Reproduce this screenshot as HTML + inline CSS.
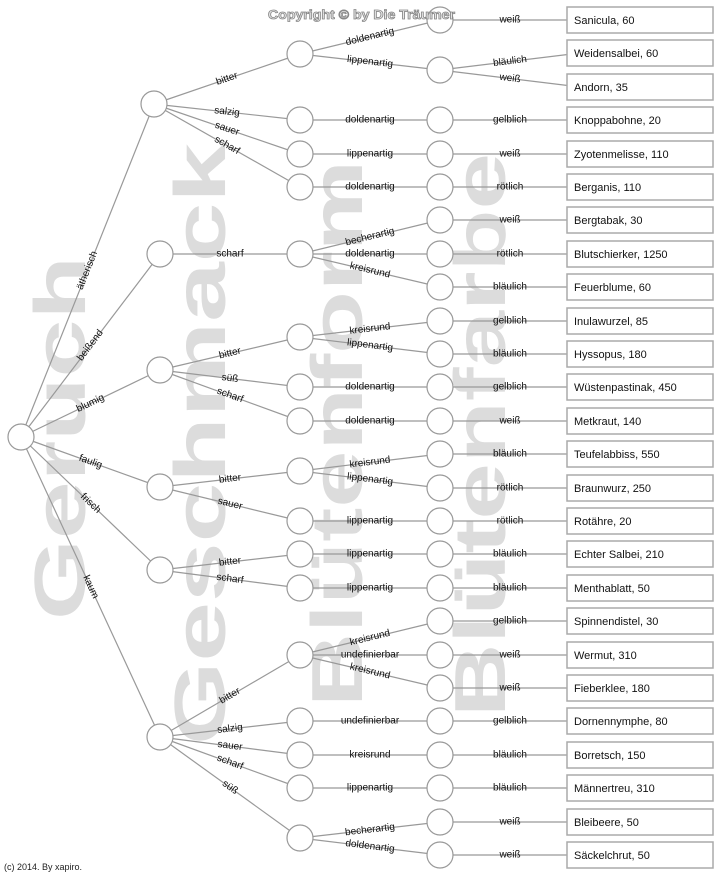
<!DOCTYPE html>
<html><head><meta charset="utf-8"><style>
html,body{margin:0;padding:0;background:#fff;}
svg{display:block;font-family:"Liberation Sans",Arial,sans-serif;}
.wm{font-size:72px;font-weight:bold;fill:#dcdcdc;}
.l{stroke:#999;stroke-width:1.2;fill:none;}
.c{stroke:#999;stroke-width:1.2;fill:#fff;}
.b{stroke:#aaa;stroke-width:1.5;fill:#fff;}
.t{font-size:10px;fill:#111;text-anchor:middle;}
.bt{font-size:11px;fill:#111;}
</style></head><body>
<svg width="721" height="875" viewBox="0 0 721 875" xmlns="http://www.w3.org/2000/svg">
<text class="wm" transform="rotate(-90 85 620)" x="85" y="620" textLength="364" lengthAdjust="spacingAndGlyphs">Geruch</text>
<text class="wm" transform="rotate(-90 225 745)" x="225" y="745" textLength="602" lengthAdjust="spacingAndGlyphs">Geschmack</text>
<text class="wm" transform="rotate(-90 362 707)" x="362" y="707" textLength="547" lengthAdjust="spacingAndGlyphs">Blütenform</text>
<text class="wm" transform="rotate(-90 505 717)" x="505" y="717" textLength="564" lengthAdjust="spacingAndGlyphs">Blütenfarbe</text>

<g class="l">
<line x1="21" y1="437" x2="154" y2="104"/><line x1="21" y1="437" x2="160" y2="254"/><line x1="21" y1="437" x2="160" y2="370"/>
<line x1="21" y1="437" x2="160" y2="487"/><line x1="21" y1="437" x2="160" y2="570"/><line x1="21" y1="437" x2="160" y2="737"/>
<line x1="154" y1="104" x2="300" y2="54"/><line x1="154" y1="104" x2="300" y2="120"/><line x1="154" y1="104" x2="300" y2="154"/><line x1="154" y1="104" x2="300" y2="187"/>
<line x1="160" y1="254" x2="300" y2="254"/>
<line x1="160" y1="370" x2="300" y2="337"/><line x1="160" y1="370" x2="300" y2="387"/><line x1="160" y1="370" x2="300" y2="421"/>
<line x1="160" y1="487" x2="300" y2="471"/><line x1="160" y1="487" x2="300" y2="521"/>
<line x1="160" y1="570" x2="300" y2="554"/><line x1="160" y1="570" x2="300" y2="588"/>
<line x1="160" y1="737" x2="300" y2="655"/><line x1="160" y1="737" x2="300" y2="721"/><line x1="160" y1="737" x2="300" y2="755"/><line x1="160" y1="737" x2="300" y2="788"/><line x1="160" y1="737" x2="300" y2="838"/>
<line x1="300" y1="54" x2="440" y2="20"/><line x1="300" y1="54" x2="440" y2="70"/>
<line x1="300" y1="120" x2="440" y2="120"/><line x1="300" y1="154" x2="440" y2="154"/><line x1="300" y1="187" x2="440" y2="187"/>
<line x1="300" y1="254" x2="440" y2="220"/><line x1="300" y1="254" x2="440" y2="254"/><line x1="300" y1="254" x2="440" y2="287"/>
<line x1="300" y1="337" x2="440" y2="321"/><line x1="300" y1="337" x2="440" y2="354"/>
<line x1="300" y1="387" x2="440" y2="387"/><line x1="300" y1="421" x2="440" y2="421"/>
<line x1="300" y1="471" x2="440" y2="454"/><line x1="300" y1="471" x2="440" y2="488"/>
<line x1="300" y1="521" x2="440" y2="521"/><line x1="300" y1="554" x2="440" y2="554"/><line x1="300" y1="588" x2="440" y2="588"/>
<line x1="300" y1="655" x2="440" y2="621"/><line x1="300" y1="655" x2="440" y2="655"/><line x1="300" y1="655" x2="440" y2="688"/>
<line x1="300" y1="721" x2="440" y2="721"/><line x1="300" y1="755" x2="440" y2="755"/><line x1="300" y1="788" x2="440" y2="788"/>
<line x1="300" y1="838" x2="440" y2="822"/><line x1="300" y1="838" x2="440" y2="855"/>
<line x1="440" y1="20" x2="580" y2="20"/><line x1="440" y1="70" x2="580" y2="53"/><line x1="440" y1="70" x2="580" y2="87"/>
<line x1="440" y1="120" x2="580" y2="120"/><line x1="440" y1="154" x2="580" y2="154"/><line x1="440" y1="187" x2="580" y2="187"/>
<line x1="440" y1="220" x2="580" y2="220"/><line x1="440" y1="254" x2="580" y2="254"/><line x1="440" y1="287" x2="580" y2="287"/>
<line x1="440" y1="321" x2="580" y2="321"/><line x1="440" y1="354" x2="580" y2="354"/><line x1="440" y1="387" x2="580" y2="387"/>
<line x1="440" y1="421" x2="580" y2="421"/><line x1="440" y1="454" x2="580" y2="454"/><line x1="440" y1="488" x2="580" y2="488"/>
<line x1="440" y1="521" x2="580" y2="521"/><line x1="440" y1="554" x2="580" y2="554"/><line x1="440" y1="588" x2="580" y2="588"/>
<line x1="440" y1="621" x2="580" y2="621"/><line x1="440" y1="655" x2="580" y2="655"/><line x1="440" y1="688" x2="580" y2="688"/>
<line x1="440" y1="721" x2="580" y2="721"/><line x1="440" y1="755" x2="580" y2="755"/><line x1="440" y1="788" x2="580" y2="788"/>
<line x1="440" y1="822" x2="580" y2="822"/><line x1="440" y1="855" x2="580" y2="855"/>
</g>

<g class="c">
<circle cx="21" cy="437" r="13"/>
<circle cx="154" cy="104" r="13"/><circle cx="160" cy="254" r="13"/><circle cx="160" cy="370" r="13"/><circle cx="160" cy="487" r="13"/><circle cx="160" cy="570" r="13"/><circle cx="160" cy="737" r="13"/>
<circle cx="300" cy="54" r="13"/><circle cx="300" cy="120" r="13"/><circle cx="300" cy="154" r="13"/><circle cx="300" cy="187" r="13"/><circle cx="300" cy="254" r="13"/><circle cx="300" cy="337" r="13"/><circle cx="300" cy="387" r="13"/><circle cx="300" cy="421" r="13"/><circle cx="300" cy="471" r="13"/><circle cx="300" cy="521" r="13"/><circle cx="300" cy="554" r="13"/><circle cx="300" cy="588" r="13"/><circle cx="300" cy="655" r="13"/><circle cx="300" cy="721" r="13"/><circle cx="300" cy="755" r="13"/><circle cx="300" cy="788" r="13"/><circle cx="300" cy="838" r="13"/>
<circle cx="440" cy="20" r="13"/><circle cx="440" cy="70" r="13"/><circle cx="440" cy="120" r="13"/><circle cx="440" cy="154" r="13"/><circle cx="440" cy="187" r="13"/><circle cx="440" cy="220" r="13"/><circle cx="440" cy="254" r="13"/><circle cx="440" cy="287" r="13"/><circle cx="440" cy="321" r="13"/><circle cx="440" cy="354" r="13"/><circle cx="440" cy="387" r="13"/><circle cx="440" cy="421" r="13"/><circle cx="440" cy="454" r="13"/><circle cx="440" cy="488" r="13"/><circle cx="440" cy="521" r="13"/><circle cx="440" cy="554" r="13"/><circle cx="440" cy="588" r="13"/><circle cx="440" cy="621" r="13"/><circle cx="440" cy="655" r="13"/><circle cx="440" cy="688" r="13"/><circle cx="440" cy="721" r="13"/><circle cx="440" cy="755" r="13"/><circle cx="440" cy="788" r="13"/><circle cx="440" cy="822" r="13"/><circle cx="440" cy="855" r="13"/>
</g>

<text x="268" y="19" textLength="187" lengthAdjust="spacingAndGlyphs" font-size="13" font-weight="bold" fill="#e8e8e8" stroke="#888" stroke-width="0.8">Copyright © by Die Träumer</text>

<g class="b">
<rect x="567" y="7" width="146" height="26"/><rect x="567" y="40" width="146" height="26"/><rect x="567" y="74" width="146" height="26"/>
<rect x="567" y="107" width="146" height="26"/><rect x="567" y="141" width="146" height="26"/><rect x="567" y="174" width="146" height="26"/>
<rect x="567" y="207" width="146" height="26"/><rect x="567" y="241" width="146" height="26"/><rect x="567" y="274" width="146" height="26"/>
<rect x="567" y="308" width="146" height="26"/><rect x="567" y="341" width="146" height="26"/><rect x="567" y="374" width="146" height="26"/>
<rect x="567" y="408" width="146" height="26"/><rect x="567" y="441" width="146" height="26"/><rect x="567" y="475" width="146" height="26"/>
<rect x="567" y="508" width="146" height="26"/><rect x="567" y="541" width="146" height="26"/><rect x="567" y="575" width="146" height="26"/>
<rect x="567" y="608" width="146" height="26"/><rect x="567" y="642" width="146" height="26"/><rect x="567" y="675" width="146" height="26"/>
<rect x="567" y="708" width="146" height="26"/><rect x="567" y="742" width="146" height="26"/><rect x="567" y="775" width="146" height="26"/>
<rect x="567" y="809" width="146" height="26"/><rect x="567" y="842" width="146" height="26"/>
</g>
<g class="bt">
<text x="574" y="24">Sanicula, 60</text><text x="574" y="57">Weidensalbei, 60</text><text x="574" y="91">Andorn, 35</text>
<text x="574" y="124">Knoppabohne, 20</text><text x="574" y="158">Zyotenmelisse, 110</text><text x="574" y="191">Berganis, 110</text>
<text x="574" y="224">Bergtabak, 30</text><text x="574" y="258">Blutschierker, 1250</text><text x="574" y="291">Feuerblume, 60</text>
<text x="574" y="325">Inulawurzel, 85</text><text x="574" y="358">Hyssopus, 180</text><text x="574" y="391">Wüstenpastinak, 450</text>
<text x="574" y="425">Metkraut, 140</text><text x="574" y="458">Teufelabbiss, 550</text><text x="574" y="492">Braunwurz, 250</text>
<text x="574" y="525">Rotähre, 20</text><text x="574" y="558">Echter Salbei, 210</text><text x="574" y="592">Menthablatt, 50</text>
<text x="574" y="625">Spinnendistel, 30</text><text x="574" y="659">Wermut, 310</text><text x="574" y="692">Fieberklee, 180</text>
<text x="574" y="725">Dornennymphe, 80</text><text x="574" y="759">Borretsch, 150</text><text x="574" y="792">Männertreu, 310</text>
<text x="574" y="826">Bleibeere, 50</text><text x="574" y="859">Säckelchrut, 50</text>
</g>

<g class="t">
<text x="87.5" y="270.5" dy="2.5" transform="rotate(-68.2 87.5 270.5)">ätherisch</text>
<text x="90.5" y="345.5" dy="2.5" transform="rotate(-52.9 90.5 345.5)">beißend</text>
<text x="90.5" y="403.5" dy="2.5" transform="rotate(-25.7 90.5 403.5)">blumig</text>
<text x="90.5" y="462" dy="2.5" transform="rotate(19.8 90.5 462)">faulig</text>
<text x="90.5" y="503.5" dy="2.5" transform="rotate(43.7 90.5 503.5)">frisch</text>
<text x="90.5" y="587" dy="2.5" transform="rotate(65.1 90.5 587)">kaum</text>

<text x="227" y="79" dy="2.5" transform="rotate(-18.9 227 79)">bitter</text>
<text x="227" y="112" dy="2.5" transform="rotate(6.3 227 112)">salzig</text>
<text x="227" y="129" dy="2.5" transform="rotate(18.5 227 129)">sauer</text>
<text x="227" y="145.5" dy="2.5" transform="rotate(29.6 227 145.5)">scharf</text>
<text x="230" y="254" dy="2.5">scharf</text>
<text x="230" y="353.5" dy="2.5" transform="rotate(-13.3 230 353.5)">bitter</text>
<text x="230" y="378.5" dy="2.5" transform="rotate(6.9 230 378.5)">süß</text>
<text x="230" y="395.5" dy="2.5" transform="rotate(19.7 230 395.5)">scharf</text>
<text x="230" y="479" dy="2.5" transform="rotate(-6.5 230 479)">bitter</text>
<text x="230" y="504" dy="2.5" transform="rotate(13.6 230 504)">sauer</text>
<text x="230" y="562" dy="2.5" transform="rotate(-6.5 230 562)">bitter</text>
<text x="230" y="579" dy="2.5" transform="rotate(7.3 230 579)">scharf</text>
<text x="230" y="696" dy="2.5" transform="rotate(-30.4 230 696)">bitter</text>
<text x="230" y="729" dy="2.5" transform="rotate(-6.5 230 729)">salzig</text>
<text x="230" y="746" dy="2.5" transform="rotate(7.3 230 746)">sauer</text>
<text x="230" y="762.5" dy="2.5" transform="rotate(20.3 230 762.5)">scharf</text>
<text x="230" y="787.5" dy="2.5" transform="rotate(35.5 230 787.5)">süß</text>

<text x="370" y="37" dy="2.5" transform="rotate(-13.7 370 37)">doldenartig</text>
<text x="370" y="62" dy="2.5" transform="rotate(6.5 370 62)">lippenartig</text>
<text x="370" y="120" dy="2.5">doldenartig</text>
<text x="370" y="154" dy="2.5">lippenartig</text>
<text x="370" y="187" dy="2.5">doldenartig</text>
<text x="370" y="237" dy="2.5" transform="rotate(-13.7 370 237)">becherartig</text>
<text x="370" y="254" dy="2.5">doldenartig</text>
<text x="370" y="270.5" dy="2.5" transform="rotate(13.3 370 270.5)">kreisrund</text>
<text x="370" y="329" dy="2.5" transform="rotate(-6.5 370 329)">kreisrund</text>
<text x="370" y="345.5" dy="2.5" transform="rotate(6.9 370 345.5)">lippenartig</text>
<text x="370" y="387" dy="2.5">doldenartig</text>
<text x="370" y="421" dy="2.5">doldenartig</text>
<text x="370" y="462.5" dy="2.5" transform="rotate(-6.9 370 462.5)">kreisrund</text>
<text x="370" y="479.5" dy="2.5" transform="rotate(6.9 370 479.5)">lippenartig</text>
<text x="370" y="521" dy="2.5">lippenartig</text>
<text x="370" y="554" dy="2.5">lippenartig</text>
<text x="370" y="588" dy="2.5">lippenartig</text>
<text x="370" y="638" dy="2.5" transform="rotate(-13.7 370 638)">kreisrund</text>
<text x="370" y="655" dy="2.5">undefinierbar</text>
<text x="370" y="671.5" dy="2.5" transform="rotate(13.3 370 671.5)">kreisrund</text>
<text x="370" y="721" dy="2.5">undefinierbar</text>
<text x="370" y="755" dy="2.5">kreisrund</text>
<text x="370" y="788" dy="2.5">lippenartig</text>
<text x="370" y="830" dy="2.5" transform="rotate(-6.5 370 830)">becherartig</text>
<text x="370" y="846.5" dy="2.5" transform="rotate(6.9 370 846.5)">doldenartig</text>

<text x="510" y="20" dy="2.5">weiß</text>
<text x="510" y="61.5" dy="2.5" transform="rotate(-6.9 510 61.5)">bläulich</text>
<text x="510" y="78.5" dy="2.5" transform="rotate(6.9 510 78.5)">weiß</text>
<text x="510" y="120" dy="2.5">gelblich</text>
<text x="510" y="154" dy="2.5">weiß</text>
<text x="510" y="187" dy="2.5">rötlich</text>
<text x="510" y="220" dy="2.5">weiß</text>
<text x="510" y="254" dy="2.5">rötlich</text>
<text x="510" y="287" dy="2.5">bläulich</text>
<text x="510" y="321" dy="2.5">gelblich</text>
<text x="510" y="354" dy="2.5">bläulich</text>
<text x="510" y="387" dy="2.5">gelblich</text>
<text x="510" y="421" dy="2.5">weiß</text>
<text x="510" y="454" dy="2.5">bläulich</text>
<text x="510" y="488" dy="2.5">rötlich</text>
<text x="510" y="521" dy="2.5">rötlich</text>
<text x="510" y="554" dy="2.5">bläulich</text>
<text x="510" y="588" dy="2.5">bläulich</text>
<text x="510" y="621" dy="2.5">gelblich</text>
<text x="510" y="655" dy="2.5">weiß</text>
<text x="510" y="688" dy="2.5">weiß</text>
<text x="510" y="721" dy="2.5">gelblich</text>
<text x="510" y="755" dy="2.5">bläulich</text>
<text x="510" y="788" dy="2.5">bläulich</text>
<text x="510" y="822" dy="2.5">weiß</text>
<text x="510" y="855" dy="2.5">weiß</text>
</g>
<text x="4" y="870" font-size="9" fill="#222">(c) 2014. By xapiro.</text>
</svg>
</body></html>
